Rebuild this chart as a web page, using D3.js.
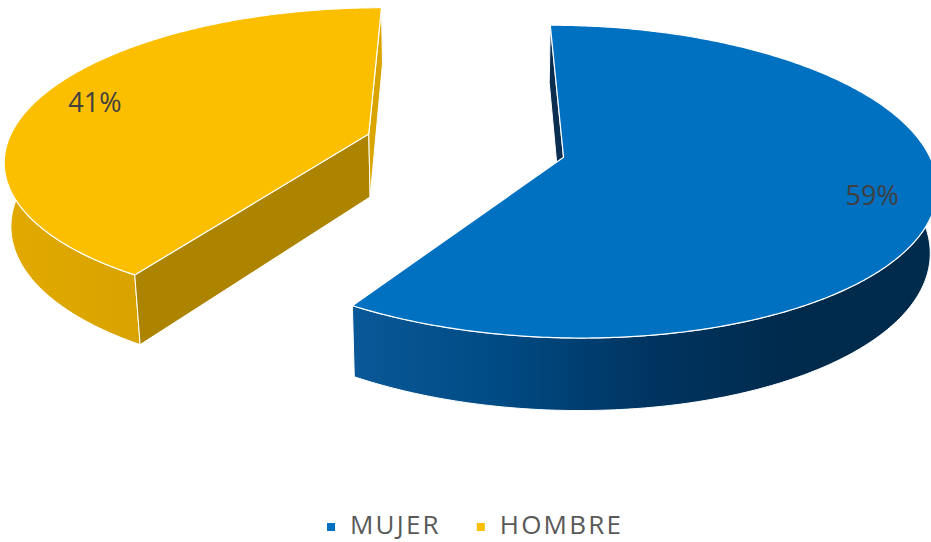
<!DOCTYPE html>
<html>
<head>
<meta charset="utf-8">
<script src="https://cdn.jsdelivr.net/npm/d3@7"></script>
<style>
  html, body { margin: 0; padding: 0; background: #fff; }
  svg { display: block; font-family: "Open Sans", sans-serif; }
</style>
</head>
<body>
<svg id="chart" width="931" height="542"></svg>
<script>
// datos del grafico
const categories = ["MUJER", "HOMBRE"];
const values = [59, 41];
const colors = ["#0070C0", "#FBBF00"];

// sombreado de las caras laterales (izq -> der)
const sideStops = [
  ["#0a5898", "#004b84", "#003562", "#002a4c", "#002b4b"],
  ["#e2aa00", "#d4a000", "#c89600"]
];
const radialFill = [
  { start: "#0b2d50", end: "#00335e" },
  { start: "#ad8400", end: "#dba500" }
];

const svg = d3.select("#chart"),
  width = +svg.attr("width"),
  height = +svg.attr("height");

// camara / perspectiva
const tilt = 26 * Math.PI / 180,
  cosT = Math.cos(tilt),
  sinT = Math.sin(tilt),
  dist = 5.94,
  focal = 2120,
  thick = 0.195,
  explode = 0.28,
  cx = 465,
  cy = 209;

const cam = [0, dist * cosT, dist * sinT];

function project(p) {
  const w = dist - p[1] * cosT - p[2] * sinT;
  const v = p[1] * sinT - p[2] * cosT;
  return [cx + focal * p[0] / w, cy + focal * v / w];
}
const dir = (a) => [Math.sin(a), -Math.cos(a)];

const line = d3.line().x((d) => d[0]).y((d) => d[1]);
const face = (pts) => line(pts.map(project)) + "Z";

const pie = d3.pie().sort(null).startAngle(0).endAngle(2 * Math.PI);
const slices = pie(values);

const defs = svg.append("defs");
const gPie = svg.append("g");

// dibujar primero la porcion de atras (HOMBRE) y luego MUJER
const order = [1, 0];

order.forEach((i) => {
  const s = slices[i];
  const mid = (s.startAngle + s.endAngle) / 2;
  const off = dir(mid).map((v) => v * explode);
  const apex = (z) => [off[0], off[1], z];
  const rim = (a, z, r = 1) => {
    const d = dir(a);
    return [off[0] + d[0] * r, off[1] + d[1] * r, z];
  };
  const steps = Math.ceil((s.endAngle - s.startAngle) / 0.01);
  const arc = (z) =>
    d3.range(steps + 1).map((k) => rim(s.startAngle + (s.endAngle - s.startAngle) * k / steps, z));

  const g = gPie.append("g").attr("class", "slice-" + categories[i]);

  // cara lateral exterior con degradado
  const topArc = arc(thick), botArc = arc(0);
  const bandPts = topArc.concat(botArc.slice().reverse());
  const xs = bandPts.map((p) => project(p)[0]);
  const grad = defs.append("linearGradient")
    .attr("id", "side" + i)
    .attr("gradientUnits", "userSpaceOnUse")
    .attr("x1", d3.min(xs)).attr("x2", d3.max(xs))
    .attr("y1", 0).attr("y2", 0);
  sideStops[i].forEach((c, k, arr) => {
    grad.append("stop").attr("offset", k / (arr.length - 1)).attr("stop-color", c);
  });
  g.append("path")
    .attr("d", face(bandPts))
    .attr("fill", "url(#side" + i + ")")
    .attr("stroke", "#fff").attr("stroke-width", 1).attr("stroke-linejoin", "round");

  // caras radiales visibles
  [["start", s.startAngle, s.startAngle - Math.PI / 2], ["end", s.endAngle, s.endAngle + Math.PI / 2]]
    .forEach(([key, a, na]) => {
      const n = dir(na);
      const p = rim(a, thick / 2);
      const dot = (cam[0] - p[0]) * n[0] + (cam[1] - p[1]) * n[1];
      if (dot <= 0) return;
      g.append("path")
        .attr("d", face([apex(thick), rim(a, thick), rim(a, 0), apex(0)]))
        .attr("fill", radialFill[i][key])
        .attr("stroke", "#fff").attr("stroke-width", 1).attr("stroke-linejoin", "round");
    });

  // cara superior
  g.append("path")
    .attr("d", face([apex(thick)].concat(topArc)))
    .attr("fill", colors[i])
    .attr("stroke", "#fff").attr("stroke-width", 1.2).attr("stroke-linejoin", "round");

  // etiqueta de porcentaje
  const lp = project(rim(mid, thick, 0.835));
  g.append("text")
    .attr("x", lp[0]).attr("y", lp[1])
    .attr("text-anchor", "middle")
    .attr("dominant-baseline", "central")
    .attr("font-size", 27)
    .attr("fill", "#404040")
    .text(d3.format(".0%")(s.data / d3.sum(values)));
});

// leyenda
const legend = svg.append("g").attr("font-size", 26).attr("fill", "#595959");
let lx = 327;
categories.forEach((c, i) => {
  legend.append("rect")
    .attr("x", lx).attr("y", 523).attr("width", 8).attr("height", 8)
    .attr("fill", colors[i]);
  const t = legend.append("text")
    .attr("x", lx + 23).attr("y", 534)
    .attr("letter-spacing", 2.2)
    .text(c);
  lx += 23 + t.node().getComputedTextLength() + 36;
});
</script>
</body>
</html>
